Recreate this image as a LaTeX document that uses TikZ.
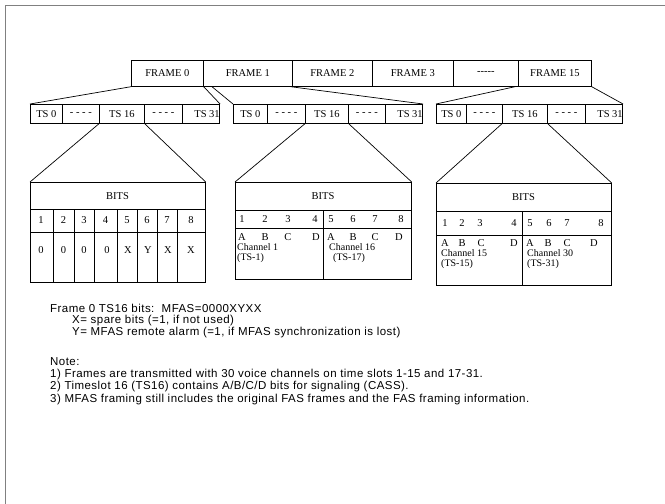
\documentclass[tikz,border=0pt]{standalone}
\usepackage{fontspec}
\setmainfont{Liberation Serif}[Ligatures=NoCommon]
\newfontfamily\notefont{Liberation Sans}[LetterSpace=4]
\begin{document}
\begin{tikzpicture}[x=1pt,y=-1pt,
  cell/.style={draw, line width=0.7pt, inner sep=0pt, anchor=north west, font=\fontsize{10.5}{12}\selectfont},
  fan/.style={line width=0.7pt},
  grid/.style={line width=0.7pt},
  tbl/.style={draw, line width=0.7pt, inner sep=0pt, anchor=north west},
  tx/.style={inner sep=0pt, font=\fontsize{10.5}{12}\selectfont},
  txw/.style={inner sep=0pt, anchor=west, font=\fontsize{10}{11}\selectfont},
  note/.style={inner sep=0pt, anchor=west, font=\notefont\fontsize{11.5}{13}\selectfont},
]
\useasboundingbox (0,0) rectangle (665,504);
\draw[gray, line width=1pt] (665,5) -- (5,5) -- (5,504);

% frame row
\node[cell, minimum width=72, minimum height=26] (f0) at (131,60) {FRAME 0};
\node[cell, minimum width=89, minimum height=26] (f1) at (203,60) {FRAME 1};
\node[cell, minimum width=80, minimum height=26] (f2) at (292,60) {FRAME 2};
\node[cell, minimum width=81, minimum height=26] (f3) at (372,60) {FRAME 3};
\node[cell, minimum width=65, minimum height=26] (fd) at (453,60) {-{}-{}-{}-{}-};
\node[cell, minimum width=73, minimum height=26] (f15) at (518,60) {FRAME 15};

% TS rows
\node[cell, minimum width=32, minimum height=19] (a0) at (30,104) {TS 0};
\node[cell, minimum width=37, minimum height=19] (a1) at (62,104) {- - - -};
\node[cell, minimum width=45, minimum height=19] (a16) at (99,104) {TS 16};
\node[cell, minimum width=38, minimum height=19] (a2) at (144,104) {- - - -};
\node[cell, minimum width=37, minimum height=19] (a31) at (182,104) {\hspace*{12pt}TS 31};

\node[cell, minimum width=34, minimum height=19] (b0) at (233,104) {TS 0};
\node[cell, minimum width=38, minimum height=19] (b1) at (267,104) {- - - -};
\node[cell, minimum width=43, minimum height=19] (b16) at (305,104) {TS 16};
\node[cell, minimum width=37, minimum height=19] (b2) at (348,104) {- - - -};
\node[cell, minimum width=32, minimum height=19] (b31) at (385,104) {\hspace*{12pt}TS 31};

\node[cell, minimum width=30, minimum height=19] (c0) at (436,104) {TS 0};
\node[cell, minimum width=36, minimum height=19] (c1) at (466,104) {- - - -};
\node[cell, minimum width=45, minimum height=19] (c16) at (502,104) {TS 16};
\node[cell, minimum width=38, minimum height=19] (c2) at (547,104) {- - - -};
\node[cell, minimum width=35, minimum height=19] (c31) at (585,104) {\hspace*{12pt}TS 31};

% fans frame -> TS rows
\draw[fan] (f0.south west) -- (a0.north west);
\draw[fan] (f0.south east) -- (a31.north east);
\draw[fan] ([xshift=9pt]f1.south west) -- (b0.north west);
\draw[fan] ([xshift=-2pt]f1.south east) -- (b31.north east);
\draw[fan] ([xshift=-3pt]f15.south west) -- (c0.north west);
\draw[fan] (f15.south east) -- (c31.north east);

% table 1
\node[tbl, minimum width=175, minimum height=100] (t1) at (30,182) {};
\draw[grid] (30,209) -- (205,209);
\draw[grid] (30,232) -- (205,232);
\foreach \x in {53,74,94,117,137,157,177} \draw[grid] (\x,209) -- (\x,282);
\node[tx] (t1h) at (117.5,196) {BITS};
\foreach \x/\n in {41/1,63.5/2,84/3,105.5/4,127/5,147/6,167/7,191/8} \node[tx] at (\x,220.5) {\n};
\foreach \x/\v in {41/0,63.5/0,84/0,107/0,128/X,148/Y,168/X,191/X} \node[tx] at (\x,250) {\v};

% table 2
\node[tbl, minimum width=176, minimum height=97] (t2) at (235,182) {};
\draw[grid] (235,210) -- (411,210);
\draw[grid] (235,228) -- (411,228);
\draw[grid] (323,210) -- (323,279);
\node[tx] (t2h) at (323,196) {BITS};
\foreach \x/\n in {242/1,265/2,288/3,315/4,331/5,353/6,375/7,401/8} \node[tx] at (\x,219) {\n};
\foreach \x/\n in {242/A,265/B,288/C,316/D,331/A,353/B,375/C,399/D} \node[tx] at (\x,237) {\n};
\node[txw] at (237,247) {Channel 1};
\node[txw] at (237,258) {(TS-1)};
\node[txw] at (329,247) {Channel 16};
\node[txw] at (333,258) {(TS-17)};

% table 3
\node[tbl, minimum width=175, minimum height=102] (t3) at (436,183) {};
\draw[grid] (436,211) -- (611,211);
\draw[grid] (436,235) -- (611,235);
\draw[grid] (522,211) -- (522,285);
\node[tx] (t3h) at (523.5,197) {BITS};
\foreach \x/\n in {445/1,462/2,480/3,514/4,530/5,549/6,567/7,601/8} \node[tx] at (\x,223) {\n};
\foreach \x/\n in {445/A,462/B,481/C,514/D,530/A,548/B,567/C,594/D} \node[tx] at (\x,243) {\n};
\node[txw] at (441,253) {Channel 15};
\node[txw] at (441,264) {(TS-15)};
\node[txw] at (527,253) {Channel 30};
\node[txw] at (527,264) {(TS-31)};

% fans TS16 -> tables
\draw[fan] (a16.south west) -- (t1.north west);
\draw[fan] (a16.south east) -- (t1.north east);
\draw[fan] (b16.south west) -- (t2.north west);
\draw[fan] (b16.south east) -- (t2.north east);
\draw[fan] (c16.south west) -- (t3.north west);
\draw[fan] (c16.south east) -- (t3.north east);

% notes
\node[note] (n0) at (50,308) {Frame 0 TS16 bits:\ \ MFAS=0000XYXX};
\node[note] (n1) at (72,320.5) {X= spare bits (=1, if not used)};
\node[note] (n2) at (72,333) {Y= MFAS remote alarm (=1, if MFAS synchronization is lost)};
\node[note] (n3) at (50,362) {Note:};
\node[note] (n4) at (50,374.5) {1) Frames are transmitted with 30 voice channels on time slots 1-15 and 17-31.};
\node[note] (n5) at (50,387) {2) Timeslot 16 (TS16) contains A/B/C/D bits for signaling (CASS).};
\node[note] (n6) at (50,399.5) {3) MFAS framing still includes the original FAS frames and the FAS framing information.};
\end{tikzpicture}
\end{document}
